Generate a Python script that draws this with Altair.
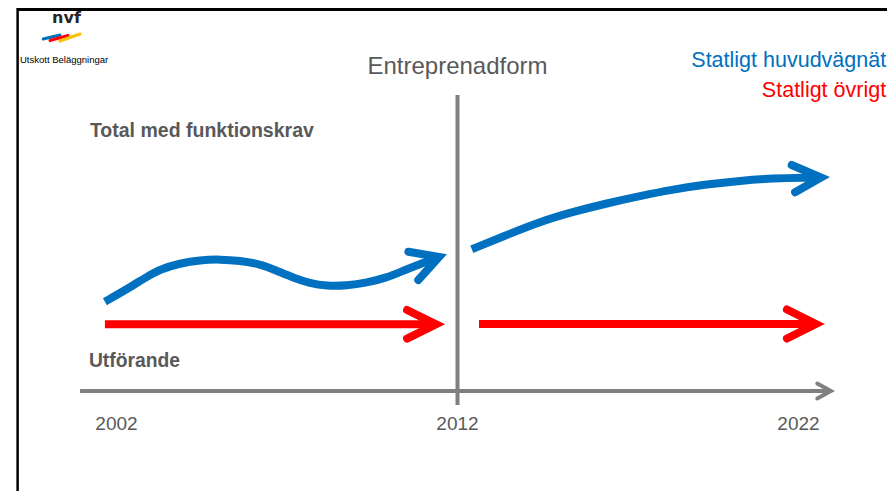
import altair as alt
import pandas as pd

# ---- data (x = år, y = nivå, arbitrary level units; axis line is level 0) ----
# Blue curve, before 2012
blue1_year = [2001.66, 2002.30, 2002.89, 2003.28, 2003.86, 2004.45, 2005.04, 2005.62,
              2006.21, 2006.70, 2007.18, 2007.67, 2008.16, 2008.75, 2009.34, 2009.92,
              2010.41, 2010.90, 2011.46]
blue1_level = [89.3, 101.7, 114.3, 121.7, 127.7, 131.0, 131.7, 130.3,
               127.0, 120.3, 113.3, 107.7, 105.0, 105.3, 108.3, 113.3,
               120.3, 127.0, 134.0]
blue1_head_year = [2010.56, 2011.46, 2010.85]
blue1_head_level = [139.3, 134.0, 111.0]

# Blue curve, after 2012
blue2_year = [2012.42, 2013.44, 2014.42, 2015.40, 2016.38, 2017.35, 2018.33, 2019.31,
              2020.29, 2021.26, 2022.24, 2022.66]
blue2_level = [141.7, 156.0, 169.3, 179.3, 187.7, 195.0, 201.7, 206.7,
               210.3, 212.7, 213.5, 213.5]
blue2_head_year = [2021.80, 2022.66, 2021.90]
blue2_head_level = [226.0, 213.5, 198.7]

# Red arrows
red1_year = [2001.66, 2011.37]
red1_level = [66.7, 66.7]
red1_head_year = [2010.52, 2011.37, 2010.52]
red1_head_level = [81.0, 66.7, 52.4]
red2_year = [2012.63, 2022.51]
red2_level = [67.0, 67.0]
red2_head_year = [2021.66, 2022.51, 2021.66]
red2_head_level = [81.5, 67.0, 52.5]

# Time axis arrow
axis_year = [2000.93, 2022.95]
axis_level = [0.0, 0.0]
axis_head_year = [2022.55, 2022.95, 2022.55]
axis_head_level = [7.5, 0.0, -7.5]

# Divider at 2012
divider_year = [2012.0]
divider_top = [296.0]
divider_bottom = [-14.0]

tick_years = [2002, 2012, 2022]
tick_labels = ["2002", "2012", "2022"]
tick_level = -39.0

# Logo stripes
logo_colors = ["#0070C0", "#FF0000", "#FFC000"]
logo_x1 = [1999.85, 2000.05, 2000.34]
logo_x2 = [2000.34, 2000.58, 2000.93]
logo_y1 = [352.0, 350.5, 350.0]
logo_y2 = [356.0, 355.5, 357.0]

# Frame
frame_top_x = [1999.08, 2024.6]
frame_top_level = [381.5, 381.5]
frame_left_x = [1999.10, 1999.10]
frame_left_level = [383.0, -100.0]

X_DOMAIN = [1998.818, 2024.595]
Y_DOMAIN = [-100, 383]
FONT = "Liberation Sans"
GRAY_TXT = "#595959"
GRAY_LINE = "#808080"
BLUE = "#0070C0"
RED = "#FF0000"


def path_df(name, xs, ys):
    return pd.DataFrame({"del": name, "år": xs, "nivå": ys, "ordning": list(range(len(xs)))})


xs = alt.Scale(domain=X_DOMAIN, nice=False, zero=False)
ys = alt.Scale(domain=Y_DOMAIN, nice=False, zero=False)


def enc_line():
    return dict(
        x=alt.X("år:Q", scale=xs, axis=None),
        y=alt.Y("nivå:Q", scale=ys, axis=None),
        order=alt.Order("ordning:Q"),
        detail="del:N",
    )


blue_shafts = pd.concat([path_df("b1", blue1_year, blue1_level),
                         path_df("b2", blue2_year, blue2_level)])
blue_heads = pd.concat([path_df("bh1", blue1_head_year, blue1_head_level),
                        path_df("bh2", blue2_head_year, blue2_head_level)])
red_shafts = pd.concat([path_df("r1", red1_year, red1_level),
                        path_df("r2", red2_year, red2_level)])
red_heads = pd.concat([path_df("rh1", red1_head_year, red1_head_level),
                       path_df("rh2", red2_head_year, red2_head_level)])
axis_shaft = path_df("a", axis_year, axis_level)
axis_head = path_df("ah", axis_head_year, axis_head_level)

layers = []

# frame
layers.append(alt.Chart(path_df("ft", frame_top_x, frame_top_level)).mark_line(
    color="#000000", strokeWidth=3, clip=False).encode(**enc_line()))
layers.append(alt.Chart(path_df("fl", frame_left_x, frame_left_level)).mark_line(
    color="#000000", strokeWidth=2.5, clip=False).encode(**enc_line()))

# axis + divider
layers.append(alt.Chart(axis_shaft).mark_line(
    color=GRAY_LINE, strokeWidth=4, strokeCap="butt").encode(**enc_line()))
layers.append(alt.Chart(axis_head).mark_line(
    color=GRAY_LINE, strokeWidth=4, strokeCap="round", strokeJoin="miter").encode(**enc_line()))
layers.append(alt.Chart(pd.DataFrame({"år": divider_year, "top": divider_top, "bottom": divider_bottom}))
              .mark_rule(color=GRAY_LINE, strokeWidth=4)
              .encode(x=alt.X("år:Q", scale=xs, axis=None),
                      y=alt.Y("top:Q", scale=ys, axis=None), y2="bottom:Q"))

# arrows
layers.append(alt.Chart(blue_shafts).mark_line(
    color=BLUE, strokeWidth=8, strokeCap="butt", interpolate="basis").encode(**enc_line()))
layers.append(alt.Chart(blue_heads).mark_line(
    color=BLUE, strokeWidth=8, strokeCap="round", strokeJoin="miter").encode(**enc_line()))
layers.append(alt.Chart(red_shafts).mark_line(
    color=RED, strokeWidth=8, strokeCap="butt").encode(**enc_line()))
layers.append(alt.Chart(red_heads).mark_line(
    color=RED, strokeWidth=8, strokeCap="round", strokeJoin="miter").encode(**enc_line()))

# logo stripes
layers.append(alt.Chart(pd.DataFrame({"x1": logo_x1, "x2": logo_x2, "y1": logo_y1,
                                      "y2": logo_y2, "c": logo_colors}))
              .mark_rule(strokeWidth=3, strokeCap="round")
              .encode(x=alt.X("x1:Q", scale=xs, axis=None), x2="x2:Q",
                      y=alt.Y("y1:Q", scale=ys, axis=None), y2="y2:Q",
                      color=alt.Color("c:N", scale=None)))


def text_layer(texts, xvals, yvals, font=FONT, **kw):
    df = pd.DataFrame({"t": texts, "år": xvals, "nivå": yvals})
    return alt.Chart(df).mark_text(font=font, baseline="alphabetic", **kw).encode(
        x=alt.X("år:Q", scale=xs, axis=None),
        y=alt.Y("nivå:Q", scale=ys, axis=None),
        text="t:N")


layers.append(text_layer(tick_labels, tick_years, [tick_level] * 3,
                         fontSize=19, color=GRAY_TXT, align="center"))
layers.append(text_layer(["Entreprenadform"], [2012.0], [317.0],
                         fontSize=24, color=GRAY_TXT, align="center"))
layers.append(text_layer(["Statligt huvudvägnät"], [2024.57], [324.0],
                         fontSize=21.5, color=BLUE, align="right"))
layers.append(text_layer(["Statligt övrigt"], [2024.57], [294.0],
                         fontSize=21.5, color=RED, align="right"))
layers.append(text_layer(["Total med funktionskrav"], [2001.22], [254.0],
                         fontSize=19.5, fontWeight="bold", color=GRAY_TXT, align="left"))
layers.append(text_layer(["Utförande"], [2001.19], [24.0],
                         fontSize=19.3, fontWeight="bold", color=GRAY_TXT, align="left"))
layers.append(text_layer(["Utskott Beläggningar"], [1999.17], [328.0],
                         fontSize=9.5, color="#000000", align="left"))
layers.append(text_layer(["nvf"], [2000.11], [368.5],
                         fontSize=16, fontWeight="bold", color="#262626", align="left",
                         font="DejaVu Sans"))

chart = alt.layer(*layers).properties(
    width=879, height=483, padding=0,
    autosize=alt.AutoSizeParams(type="none"),
).configure_view(stroke=None)

chart.save("out.html", embed_options={"renderer": "svg", "actions": False})
